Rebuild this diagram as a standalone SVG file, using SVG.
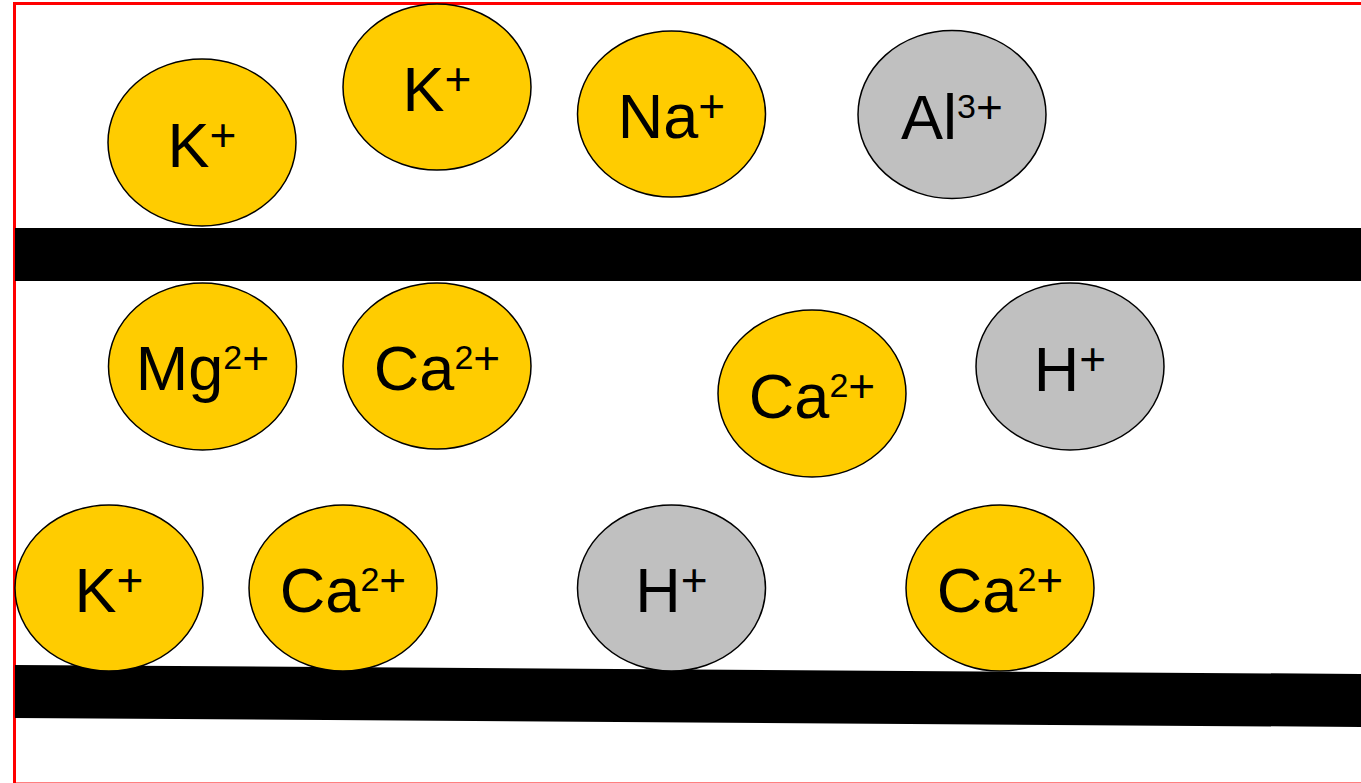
<svg xmlns="http://www.w3.org/2000/svg" width="1361" height="783" viewBox="0 0 1361 783">
  <style>
    .ion { stroke: #000; stroke-width: 1.5; }
    .cation { fill: #FFCC00; }
    .acid { fill: #C0C0C0; }
    .layer { fill: #000; }
    text { font-family: "Liberation Sans", Arial, sans-serif; fill: #000; text-anchor: middle; font-size: 63px; }
    .chg { font-size: 34px; }
    .pl { font-size: 46px; }
  </style>
  <rect width="1361" height="783" fill="#fff"/>
  <!-- frame -->
  <rect x="14.5" y="3.5" width="1400" height="780.5" fill="none" stroke="#FF0000" stroke-width="3"/>
  <!-- clay layers -->
  <g id="layers">
    <rect id="layer-top" class="layer" x="15" y="228" width="1350" height="53"/>
    <polygon id="layer-bottom" class="layer" points="15,665 1365,674 1365,727 15,718"/>
  </g>
  <!-- upper row -->
  <g id="k1"><ellipse class="ion cation" cx="202" cy="142.5" rx="94" ry="83.5"/><text x="202" y="167">K<tspan class="pl" dy="-16">+</tspan></text></g>
  <g id="k2"><ellipse class="ion cation" cx="437" cy="87" rx="94" ry="83"/><text x="437" y="111">K<tspan class="pl" dy="-16">+</tspan></text></g>
  <g id="na"><ellipse class="ion cation" cx="671.5" cy="114" rx="94" ry="83"/><text x="671.5" y="138">Na<tspan class="pl" dy="-16">+</tspan></text></g>
  <g id="al"><ellipse class="ion acid" cx="952" cy="114.5" rx="94" ry="84"/><text x="952" y="138.5">Al<tspan class="chg" dy="-21">3</tspan><tspan class="pl" dy="5">+</tspan></text></g>
  <!-- middle row -->
  <g id="mg"><ellipse class="ion cation" cx="202.5" cy="366.5" rx="94" ry="83.5"/><text x="202.5" y="390">Mg<tspan class="chg" dy="-21">2</tspan><tspan class="pl" dy="5">+</tspan></text></g>
  <g id="ca1"><ellipse class="ion cation" cx="437" cy="366" rx="94" ry="83"/><text x="437" y="390">Ca<tspan class="chg" dy="-21">2</tspan><tspan class="pl" dy="5">+</tspan></text></g>
  <g id="ca2"><ellipse class="ion cation" cx="812" cy="393.5" rx="94" ry="83.5"/><text x="812" y="417.5">Ca<tspan class="chg" dy="-21">2</tspan><tspan class="pl" dy="5">+</tspan></text></g>
  <g id="h1"><ellipse class="ion acid" cx="1070" cy="366.5" rx="94" ry="83.5"/><text x="1070" y="390.5">H<tspan class="pl" dy="-16">+</tspan></text></g>
  <!-- lower row -->
  <g id="k3"><ellipse class="ion cation" cx="109" cy="588" rx="94" ry="83"/><text x="109" y="612">K<tspan class="pl" dy="-16">+</tspan></text></g>
  <g id="ca3"><ellipse class="ion cation" cx="343" cy="588" rx="94" ry="83"/><text x="343" y="612">Ca<tspan class="chg" dy="-21">2</tspan><tspan class="pl" dy="5">+</tspan></text></g>
  <g id="h2"><ellipse class="ion acid" cx="671.5" cy="588" rx="94" ry="83"/><text x="671.5" y="612">H<tspan class="pl" dy="-16">+</tspan></text></g>
  <g id="ca4"><ellipse class="ion cation" cx="1000" cy="588" rx="94" ry="83"/><text x="1000" y="612">Ca<tspan class="chg" dy="-21">2</tspan><tspan class="pl" dy="5">+</tspan></text></g>
</svg>
